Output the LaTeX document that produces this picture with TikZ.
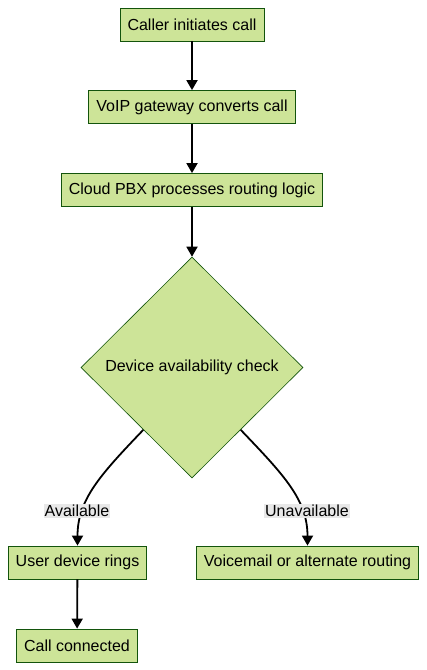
\documentclass[tikz,border=0pt]{standalone}
\usepackage{fontspec}
\setmainfont{Liberation Sans}
\usepackage{tikz}
\usetikzlibrary{arrows.meta, shapes.geometric}
\definecolor{boxfill}{HTML}{CDE498}
\definecolor{boxline}{HTML}{13540C}
\definecolor{lblfill}{HTML}{E8E8E8}

\begin{document}
\begin{tikzpicture}[x=1pt, y=-1pt,
  box/.style={draw=boxline, fill=boxfill, line width=0.8pt, minimum height=33pt, inner xsep=7.5pt, font=\fontsize{16}{19}\selectfont},
  decide/.style={diamond, draw=boxline, fill=boxfill, line width=0.6pt, minimum width=222pt, minimum height=221pt, inner sep=0pt, aspect=1, font=\fontsize{16}{19}\selectfont},
  lbl/.style={fill=lblfill, inner sep=1pt, font=\fontsize{16}{19}\selectfont},
  flow/.style={line width=1.8pt, -{Triangle[length=10pt, width=11pt]}}]
\useasboundingbox (0,0) rectangle (427,670);
% main chain
\node[box] (caller) at (192,24.5) {Caller initiates call};
\node[box] (gateway) at (192,107) {VoIP gateway converts call};
\node[box] (pbx) at (192,190) {Cloud PBX processes routing logic};
\node[decide] (check) at (192,367.5) {Device availability check};
\node[box] (rings) at (77.5,562.5) {User device rings};
\node[box] (voicemail) at (307.5,562.5) {Voicemail or alternate routing};
\node[box] (connected) at (77,645.5) {Call connected};
\draw[flow] (caller) -- (gateway);
\draw[flow] (gateway) -- (pbx);
\draw[flow] (pbx) -- (check);
% branches
\draw[flow] (check.-128) .. controls +(-43,45) and +(0,-46) .. (rings.north);
\draw[flow] (check.-52) .. controls +(43,45) and +(0,-46) .. (voicemail.north);
\node[lbl] (avail) at (77,511) {Available};
\node[lbl] (unavail) at (307,511) {Unavailable};
\draw[flow] (rings) -- (connected);
\end{tikzpicture}
\end{document}
